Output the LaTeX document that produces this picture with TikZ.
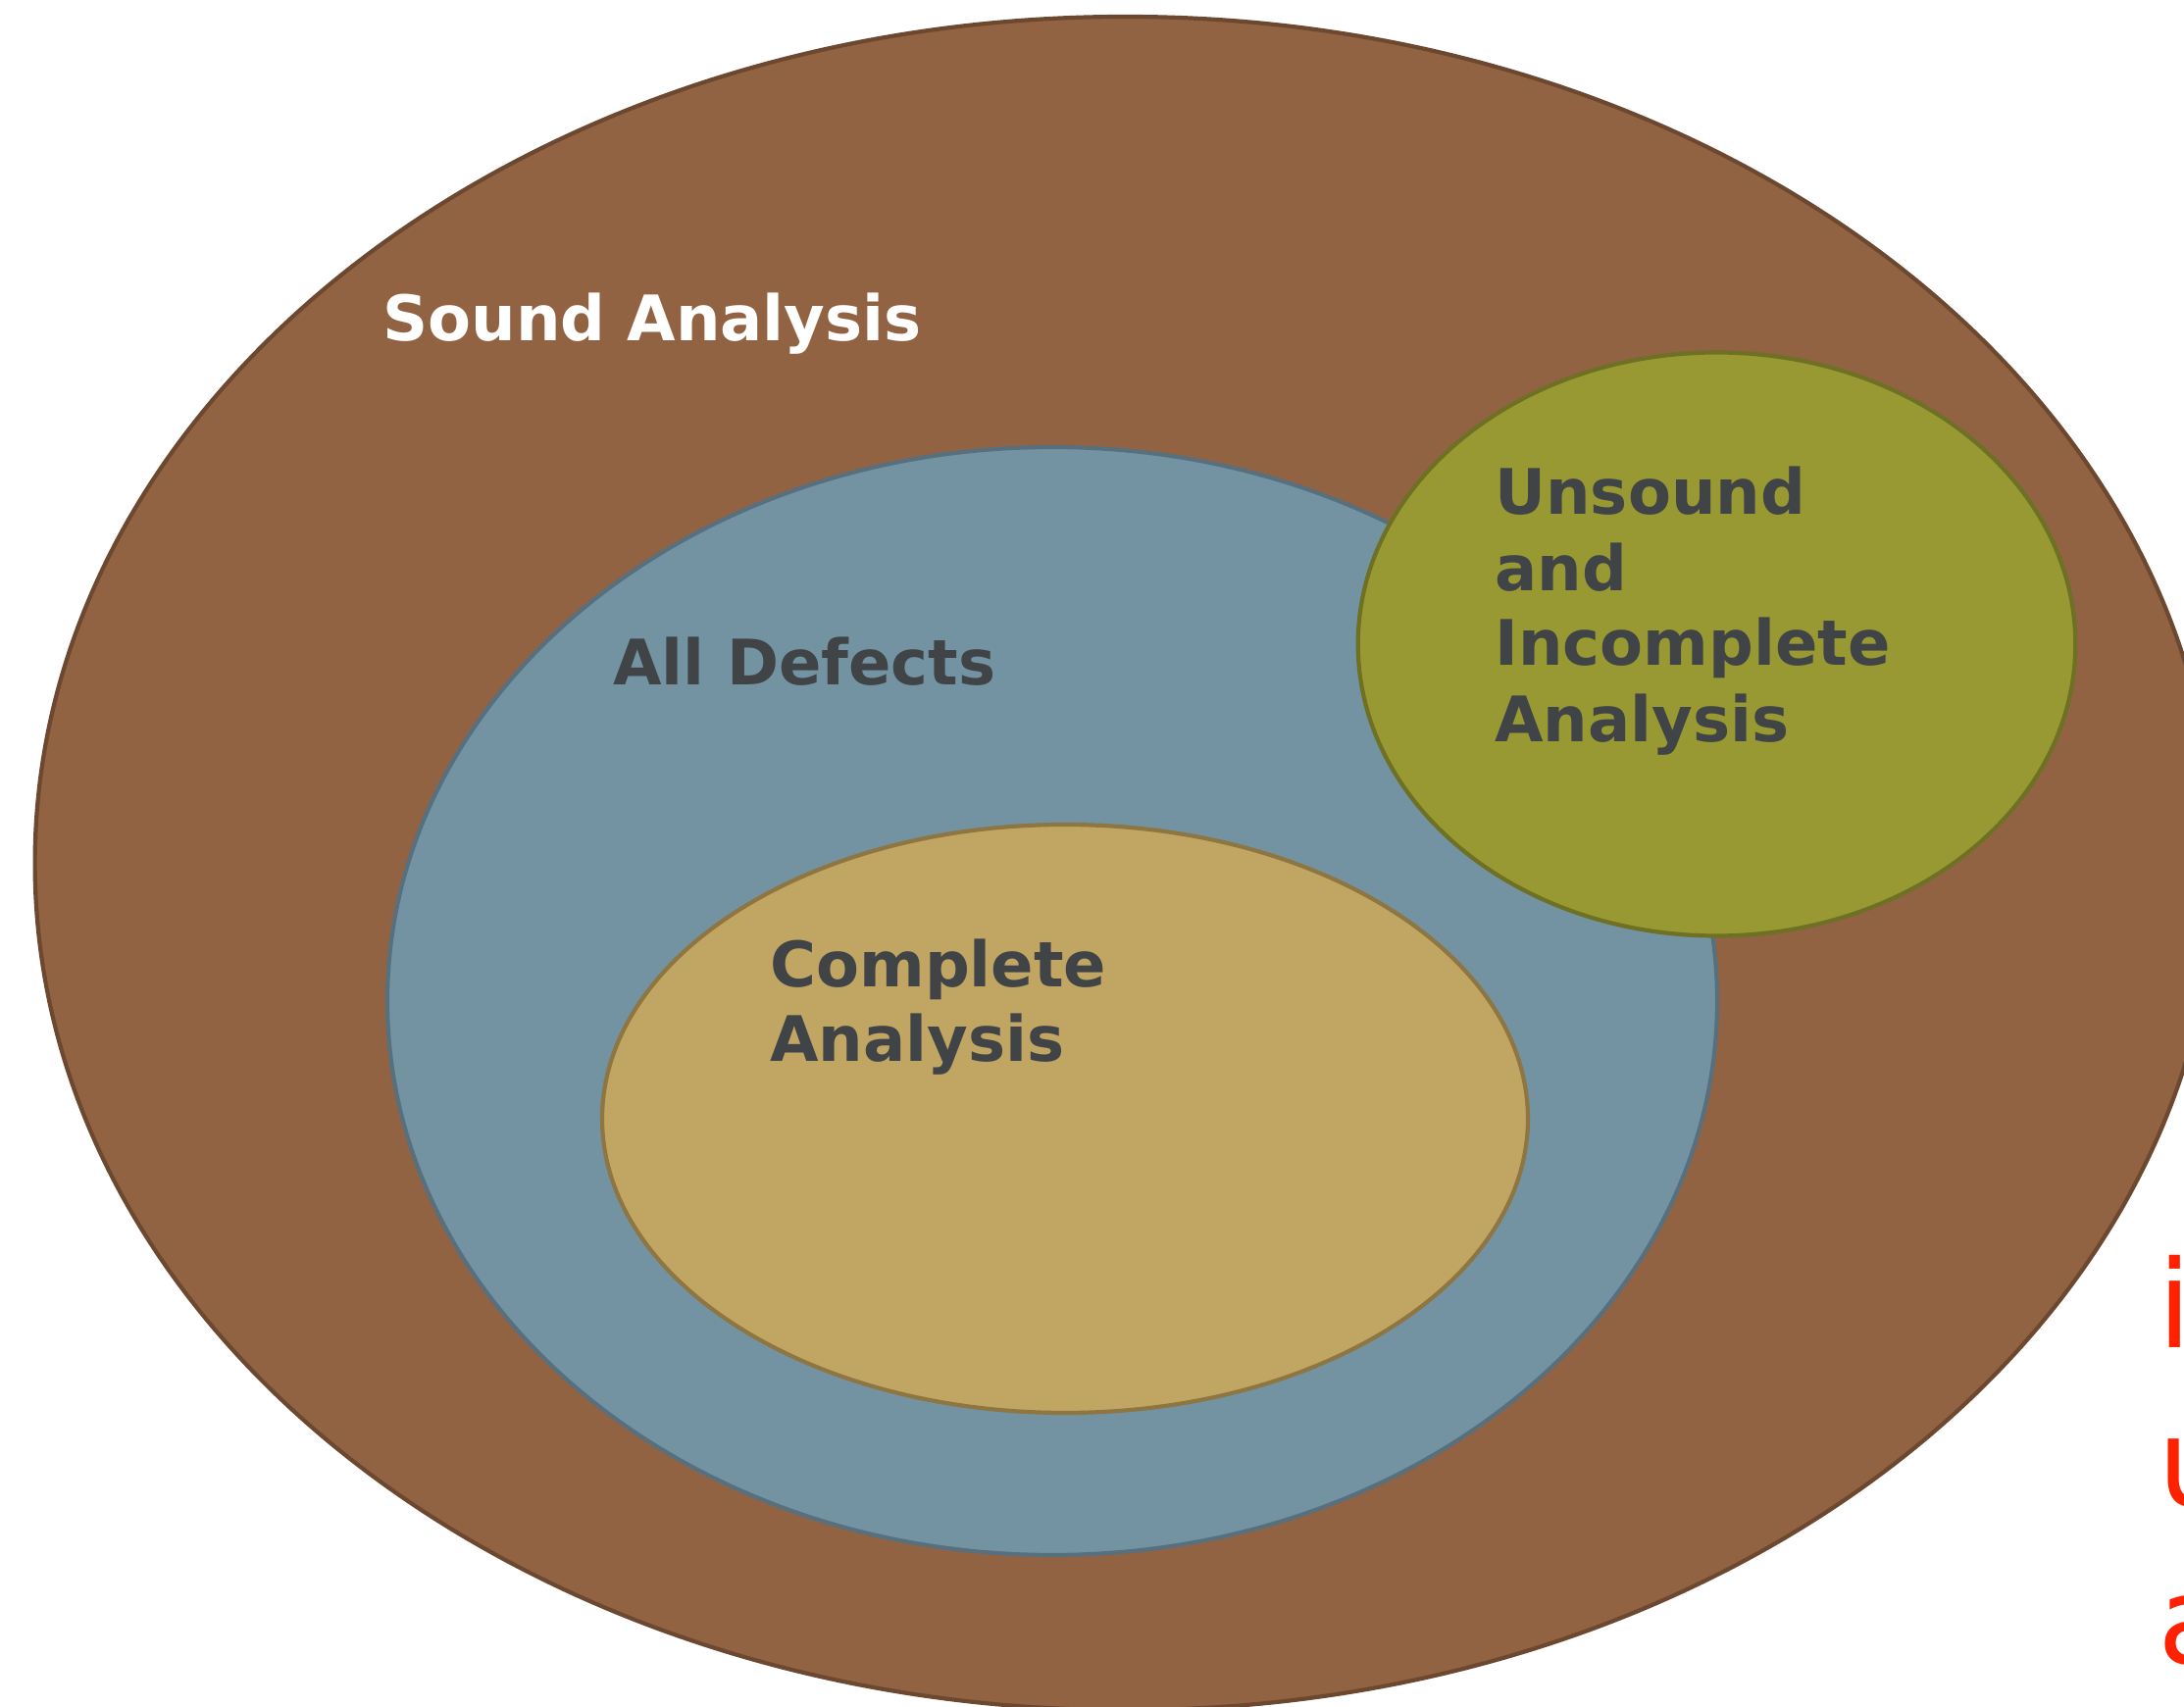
\documentclass[tikz,border=0pt]{standalone}
\usepackage{fontspec}
\setmainfont{DejaVu Sans}
\definecolor{brownfill}{HTML}{926342}
\definecolor{browndraw}{HTML}{6C4830}
\definecolor{bluefill}{HTML}{7393A3}
\definecolor{bluedraw}{HTML}{58707E}
\definecolor{tanfill}{HTML}{C1A563}
\definecolor{tandraw}{HTML}{8E7642}
\definecolor{olivefill}{HTML}{989932}
\definecolor{olivedraw}{HTML}{6E7024}
\definecolor{labelgray}{HTML}{404447}
\definecolor{redtext}{HTML}{FF2200}
\tikzset{
  setshape/.style={line width=2.1pt},
  lbl/.style={anchor=base west, inner sep=0pt, font=\fontsize{32pt}{38pt}\selectfont\bfseries, text=labelgray},
  redlbl/.style={anchor=base west, inner sep=0pt, font=\fontsize{62pt}{77pt}\selectfont, text=redtext}
}
\begin{document}
\begin{tikzpicture}
\clip (0pt,0pt) rectangle (1113.5pt,870pt);
\fill[white] (0pt,0pt) rectangle (1113.5pt,870pt);
% sets
\draw[setshape, fill=brownfill, draw=browndraw] (573.8pt,429.7pt) ellipse [x radius=556pt, y radius=431.8pt];
\draw[setshape, fill=bluefill, draw=bluedraw] (536.5pt,359.5pt) ellipse [x radius=339pt, y radius=282.5pt];
\draw[setshape, fill=tanfill, draw=tandraw] (543pt,299.5pt) ellipse [x radius=236pt, y radius=150pt];
\draw[setshape, fill=olivefill, draw=olivedraw] (875.25pt,541.5pt) ellipse [x radius=182.9pt, y radius=148.75pt];
% labels
\node[lbl, text=white] (sound) at (195pt,696pt) {Sound Analysis};
\node[lbl] (all) at (312.5pt,520.5pt) {All Defects};
\node[lbl] (un1) at (762pt,607.5pt) {Unsound};
\node[lbl] (un2) at (762pt,568.5pt) {and};
\node[lbl] (un3) at (762pt,530.5pt) {Incomplete};
\node[lbl] (un4) at (762pt,491.5pt) {Analysis};
\node[lbl] (co1) at (392.5pt,366.5pt) {Complete};
\node[lbl] (co2) at (392.5pt,328.5pt) {Analysis};
\node[redlbl] (r1) at (1100pt,182.5pt) {i};
\node[redlbl] (r2) at (1100pt,102pt) {u};
\node[redlbl] (r3) at (1100pt,22pt) {a};
\end{tikzpicture}
\end{document}
